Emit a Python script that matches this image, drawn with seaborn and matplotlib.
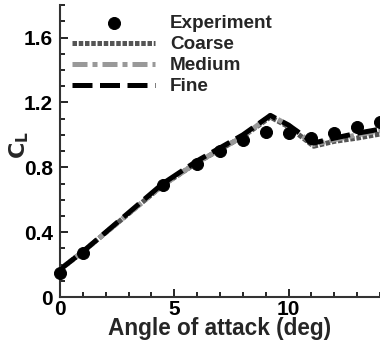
import matplotlib
matplotlib.use("Agg")
import matplotlib.pyplot as plt
import seaborn as sns
import pandas as pd
from matplotlib.ticker import MultipleLocator

exp_alpha = [0, 1, 4.5, 6, 7, 8, 9, 10, 11, 12, 13, 14]
exp_cl = [0.15, 0.27, 0.69, 0.82, 0.90, 0.97, 1.02, 1.01, 0.98, 1.01, 1.05, 1.08]

cfd_alpha = [0, 1, 4.5, 6, 7, 8, 9.2, 10, 11.1, 12, 13, 14.2]
coarse_cl = [0.17, 0.28, 0.69, 0.83, 0.91, 0.99, 1.11, 1.05, 0.93, 0.96, 0.98, 1.01]
medium_cl = [0.17, 0.28, 0.69, 0.83, 0.91, 0.99, 1.12, 1.06, 0.94, 0.97, 1.00, 1.03]
fine_cl = [0.17, 0.28, 0.70, 0.84, 0.92, 1.00, 1.12, 1.06, 0.95, 0.98, 1.01, 1.04]

sns.set_style("ticks")
plt.rcParams['font.family'] = ['Liberation Sans', 'DejaVu Sans']
plt.rcParams['font.weight'] = 'bold'

fig = plt.figure(figsize=(3.8, 3.43), dpi=100)
ax = fig.add_axes([0.158, 0.134, 0.842, 0.851])

exp_df = pd.DataFrame({"alpha": exp_alpha, "cl": exp_cl})
cfd = {"Coarse": coarse_cl, "Medium": medium_cl, "Fine": fine_cl}

sns.scatterplot(data=exp_df, x="alpha", y="cl", ax=ax, color="black", s=75,
                edgecolor="black", label="Experiment", zorder=5, clip_on=False)
sns.lineplot(x=cfd_alpha, y=cfd["Coarse"], ax=ax, color="#555555", lw=3.6,
             linestyle=(0, (0.9, 0.35)), label="Coarse")
sns.lineplot(x=cfd_alpha, y=cfd["Medium"], ax=ax, color="#999999", lw=3.6,
             linestyle=(0, (3, 1, 1, 1)), label="Medium")
sns.lineplot(x=cfd_alpha, y=cfd["Fine"], ax=ax, color="black", lw=3.6,
             linestyle=(0, (4, 1.5)), label="Fine")

ax.set_xlim(0, 14)
ax.set_ylim(0, 1.8)
ax.xaxis.set_major_locator(MultipleLocator(5))
ax.xaxis.set_minor_locator(MultipleLocator(1))
ax.yaxis.set_major_locator(MultipleLocator(0.4))
ax.yaxis.set_minor_locator(MultipleLocator(0.1))
ax.set_yticks([0, 0.4, 0.8, 1.2, 1.6])
ax.set_yticklabels(["0", "0.4", "0.8", "1.2", "1.6"])
ax.set_xticks([0, 5, 10])
ax.set_xticklabels(["0", "5", "10"])
ax.tick_params(which="both", direction="in", width=1.2, colors="black",
               labelsize=15)
ax.tick_params(axis="x", pad=2)
ax.tick_params(axis="y", pad=5)
ax.tick_params(which="major", length=6)
ax.tick_params(which="minor", length=3.5)
for lab in ax.get_xticklabels() + ax.get_yticklabels():
    lab.set_fontweight("bold")

for s in ["top", "right"]:
    ax.spines[s].set_visible(False)
for s in ["left", "bottom"]:
    ax.spines[s].set_linewidth(1.5)
    ax.spines[s].set_color("#333333")

ax.set_xlabel("Angle of attack (deg)", fontsize=16.3, fontweight="bold", labelpad=-1)
ax.set_ylabel(r"$\mathbf{C_L}$", fontsize=16)
ax.yaxis.set_label_coords(-0.09, 0.52)

leg = ax.legend(loc="upper left", bbox_to_anchor=(0.002, 1.005), frameon=False,
                fontsize=13.6, handlelength=4.4, handletextpad=0.8,
                labelspacing=0.2, borderaxespad=0.2)
for t in leg.get_texts():
    t.set_fontweight("bold")

fig.savefig("out.png", dpi=100)
